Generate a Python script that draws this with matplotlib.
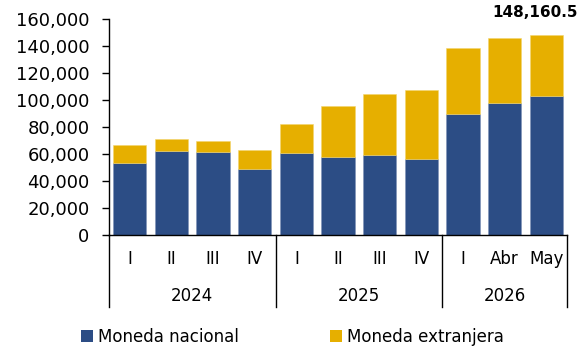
import matplotlib
matplotlib.use("Agg")
import matplotlib.pyplot as plt
from matplotlib.patches import Patch

periods = ["I", "II", "III", "IV", "I", "II", "III", "IV", "I", "Abr", "May"]
years = ["2024", "2025", "2026"]
year_spans = [(0, 3), (4, 7), (8, 10)]
moneda_nacional = [53100, 62500, 61500, 48900, 60500, 57500, 59500, 56300, 89900, 98000, 103200]
moneda_extranjera = [13600, 8600, 8400, 13800, 21700, 38300, 44700, 51100, 48400, 47700, 44960.5]

c_nac = "#2C4D85"
c_ext = "#E6AF00"
font = "DejaVu Sans"
plt.rcParams["font.family"] = font

fig = plt.figure(figsize=(5.79, 3.47), dpi=100)
ax = fig.add_axes([0.1883, 0.3228, 0.7910, 0.6224])

x = list(range(len(periods)))
ax.bar(x, moneda_nacional, width=0.8, color=c_nac, edgecolor="#7f93b8", linewidth=0.4)
ax.bar(x, moneda_extranjera, width=0.8, bottom=moneda_nacional, color=c_ext,
       edgecolor="#f3d56e", linewidth=0.4)

ax.set_xlim(-0.5, len(periods) - 0.5)
ax.set_ylim(0, 160000)
ax.set_yticks(range(0, 160001, 20000))
ax.set_yticklabels([f"{v:,}" for v in range(0, 160001, 20000)], fontsize=13)
ax.tick_params(axis="y", direction="out", length=5, width=1, pad=9)
ax.set_xticks([])

for s in ["top", "right"]:
    ax.spines[s].set_visible(False)
ax.spines["left"].set_linewidth(1)
ax.spines["bottom"].set_linewidth(1)

# two-level category axis: period labels, year labels and group separators
xt = ax.get_xaxis_transform()
for i, p in enumerate(periods):
    ax.text(i, -0.111, p, transform=xt, ha="center", va="center", fontsize=12)
for yr, (a, b) in zip(years, year_spans):
    ax.text((a + b) / 2, -0.282, yr, transform=xt, ha="center", va="center", fontsize=12)
for sx in [-0.5, 3.5, 7.5, len(periods) - 0.5]:
    ax.plot([sx, sx], [0, -0.333], transform=xt, color="black", lw=1, clip_on=False)

# total label on the latest bar
last_total = moneda_nacional[-1] + moneda_extranjera[-1]
ax.annotate(f"{last_total:,.1f}", xy=(len(periods) - 1, last_total),
            xytext=(-8, 16), textcoords="offset points",
            ha="center", va="center", fontsize=11, fontweight="bold", annotation_clip=False)

handles = [Patch(facecolor=c_nac, edgecolor="none"), Patch(facecolor=c_ext, edgecolor="none")]
fig.legend(handles, ["Moneda nacional", "Moneda extranjera"], loc="center",
           bbox_to_anchor=(0.505, 0.03), ncol=2, frameon=False, fontsize=12,
           handlelength=0.7, handleheight=0.7, handletextpad=0.3, columnspacing=5.5)

fig.savefig("out.png", dpi=100)
